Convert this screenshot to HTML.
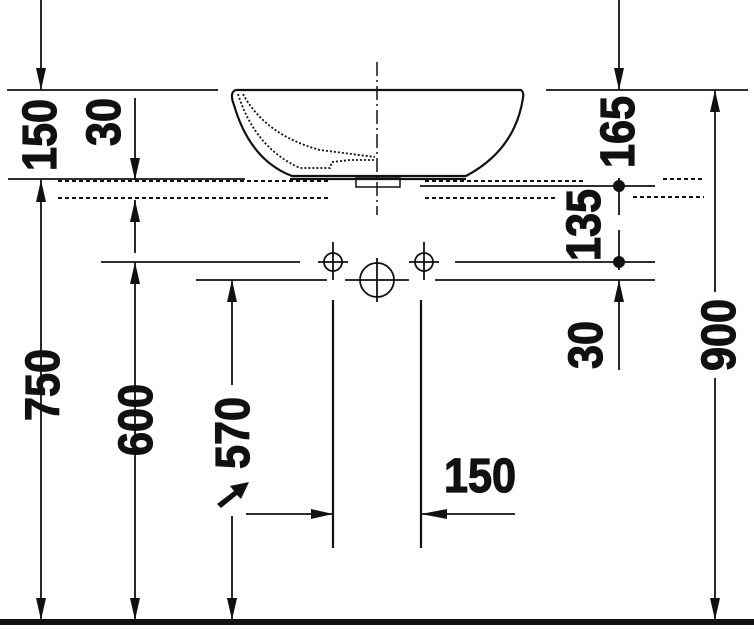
<!DOCTYPE html>
<html><head><style>html,body{margin:0;padding:0;background:#fff}svg{display:block}</style></head><body>
<svg width="754" height="629" viewBox="0 0 754 629" xmlns="http://www.w3.org/2000/svg">
<defs><style>
.t{font-family:"Liberation Sans",sans-serif;font-weight:bold;font-size:48px;fill:#111;stroke:#111;stroke-width:1.2}
</style></defs>
<g stroke="#111" fill="none" stroke-width="1.8">
<line x1="7" y1="90" x2="218" y2="90"/>
<line x1="546" y1="90" x2="748" y2="90"/>
<path d="M236 90 L521 90 Q524 92 523 98 Q515 150 466 176 L292 176 Q250 160 234 105 Q229 92 236 90 Z" stroke-width="2.2"/>
<path d="M238 94 Q255 148 300 168 L330 168 L332 162 L350 160 L375 160" stroke-dasharray="2 2"/>
<path d="M243 94 Q265 135 320 150 L375 157" stroke-dasharray="2 2"/>
<rect x="356" y="178" width="44" height="9" stroke-width="1.5"/>
<line x1="377" y1="62" x2="377" y2="215" stroke-width="1.5" stroke-dasharray="14 4 2 4"/>
<line x1="8" y1="179" x2="245" y2="179"/>
<line x1="290" y1="179" x2="466" y2="179" stroke-width="2.2"/>
<line x1="420" y1="186" x2="655" y2="186"/>
</g>
<g stroke="#111" stroke-width="2" stroke-dasharray="4 3">
<line x1="58" y1="181" x2="330" y2="181"/>
<line x1="58" y1="198" x2="330" y2="198"/>
<line x1="425" y1="181" x2="585" y2="181"/>
<line x1="425" y1="198" x2="555" y2="198"/>
<line x1="663" y1="179" x2="702" y2="179"/>
<line x1="633" y1="197" x2="704" y2="197"/>
</g>
<g stroke="#111" fill="none" stroke-width="1.8">
<line x1="101" y1="262" x2="300" y2="262"/>
<line x1="455" y1="262" x2="655" y2="262"/>
<line x1="196" y1="280" x2="327" y2="280"/>
<line x1="435" y1="280" x2="655" y2="280"/>
<circle cx="333" cy="262" r="9"/><line x1="318" y1="262" x2="348" y2="262"/><line x1="333" y1="242" x2="333" y2="280"/>
<circle cx="424" cy="262" r="9"/><line x1="409" y1="262" x2="439" y2="262"/><line x1="424" y1="242" x2="424" y2="280"/>
<circle cx="377" cy="280" r="17"/><line x1="345" y1="280" x2="409" y2="280"/><line x1="377" y1="258" x2="377" y2="302"/>
<line x1="333" y1="300" x2="333" y2="548" stroke-width="2.2"/>
<line x1="421" y1="300" x2="421" y2="548" stroke-width="2.2"/>
<line x1="41" y1="0" x2="41" y2="90"/>
<line x1="41" y1="180" x2="41" y2="620"/>
<line x1="135" y1="98" x2="135" y2="180"/>
<line x1="135" y1="200" x2="135" y2="253"/>
<line x1="135" y1="262" x2="135" y2="620"/>
<line x1="232" y1="280" x2="232" y2="385"/>
<line x1="232" y1="516" x2="232" y2="620"/>
<line x1="619" y1="0" x2="619" y2="90"/>
<line x1="619" y1="178" x2="619" y2="215"/>
<line x1="619" y1="230" x2="619" y2="270"/>
<line x1="619" y1="280" x2="619" y2="370"/>
<line x1="715" y1="90" x2="715" y2="292"/>
<line x1="715" y1="378" x2="715" y2="620"/>
<line x1="246" y1="514" x2="333" y2="514"/>
<line x1="421" y1="514" x2="515" y2="514"/>
</g>
<g fill="#111">
<rect x="0" y="619" width="754" height="6"/>
<circle cx="619" cy="186" r="6"/><circle cx="619" cy="262" r="6"/>
<path d="M36 68 L46 68 L41 90 Z"/>
<path d="M130 158 L140 158 L135 180 Z"/>
<path d="M614 68 L624 68 L619 90 Z"/>
<path d="M36 598 L46 598 L41 620 Z"/>
<path d="M130 598 L140 598 L135 620 Z"/>
<path d="M227 598 L237 598 L232 620 Z"/>
<path d="M710 598 L720 598 L715 620 Z"/>
<path d="M36 202 L46 202 L41 180 Z"/>
<path d="M130 222 L140 222 L135 200 Z"/>
<path d="M130 284 L140 284 L135 262 Z"/>
<path d="M227 302 L237 302 L232 280 Z"/>
<path d="M614 302 L624 302 L619 280 Z"/>
<path d="M710 112 L720 112 L715 90 Z"/>
<path d="M311 509 L311 519 L333 514 Z"/>
<path d="M447 509 L447 519 L421 514 Z"/>
<path d="M217 504 L234 491 L230 486 L249 482 L241 499 L237 495 L221 508 Z"/>
</g>
<g class="t">
<text transform="translate(39,135) rotate(-90) scale(0.9,1)" text-anchor="middle" dy="17">150</text>
<text transform="translate(103,122) rotate(-90) scale(0.9,1)" text-anchor="middle" dy="17">30</text>
<text transform="translate(42,385) rotate(-90) scale(0.9,1)" text-anchor="middle" dy="17">750</text>
<text transform="translate(135,420) rotate(-90) scale(0.9,1)" text-anchor="middle" dy="17">600</text>
<text transform="translate(232,433) rotate(-90) scale(0.9,1)" text-anchor="middle" dy="17">570</text>
<text transform="translate(617,132) rotate(-90) scale(0.9,1)" text-anchor="middle" dy="17">165</text>
<text transform="translate(583,225) rotate(-90) scale(0.9,1)" text-anchor="middle" dy="17">135</text>
<text transform="translate(585,345) rotate(-90) scale(0.9,1)" text-anchor="middle" dy="17">30</text>
<text transform="translate(718,335) rotate(-90) scale(0.9,1)" text-anchor="middle" dy="17">900</text>
<text transform="translate(480,475) scale(0.9,1)" text-anchor="middle" dy="17">150</text>
</g>
</svg>
</body></html>
